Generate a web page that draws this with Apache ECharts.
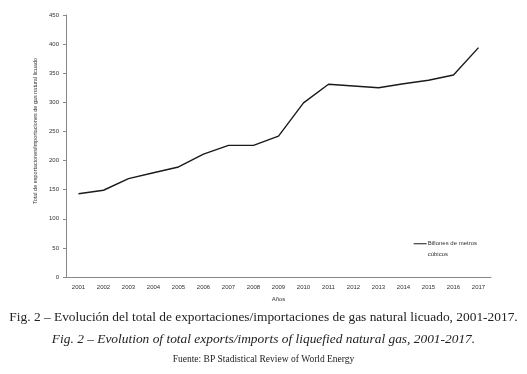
<!DOCTYPE html>
<html>
<head>
<meta charset="utf-8">
<script src="https://cdn.jsdelivr.net/npm/echarts@6/dist/echarts.min.js"></script>
<style>
  html, body { margin: 0; padding: 0; background: #fff; }
  #chart { width: 527px; height: 374px; }
</style>
</head>
<body>
<div id="chart"></div>
<script>
// años y valores (billones de metros cúbicos)
const years = ['2001', '2002', '2003', '2004', '2005', '2006', '2007', '2008', '2009',
  '2010', '2011', '2012', '2013', '2014', '2015', '2016', '2017'];
const lngTrade = [143, 149, 169, 179, 189, 211, 226, 226, 242, 299, 331, 328, 325, 332, 338, 347, 394];

const chart = echarts.init(document.getElementById('chart'));

const option = {
  backgroundColor: '#ffffff',
  animation: false,
  title: [
    {
      text: 'Fig. 2 – Evolución del total de exportaciones/importaciones de gas natural licuado, 2001-2017.',
      left: 'center', top: 306,
      textStyle: { fontFamily: 'Liberation Serif', fontSize: 13.4, fontWeight: 'normal', color: '#222' }
    },
    {
      text: 'Fig. 2 – Evolution of total exports/imports of liquefied natural gas, 2001-2017.',
      left: 'center', top: 328,
      textStyle: { fontFamily: 'Liberation Serif', fontSize: 13.4, fontStyle: 'italic', fontWeight: 'normal', color: '#222' }
    },
    {
      text: 'Fuente: BP Stadistical Review of World Energy',
      left: 'center', top: 349,
      textStyle: { fontFamily: 'Liberation Serif', fontSize: 9.5, fontWeight: 'normal', color: '#222' }
    }
  ],
  legend: {
    right: 50, top: 228,
    padding: 0,
    orient: 'vertical',
    itemWidth: 13, itemHeight: 8,
    itemGap: 0,
    icon: 'path://M0,0 L13,0 L13,1 L0,1 Z',
    textStyle: { fontFamily: 'Liberation Sans', fontSize: 6, color: '#333', lineHeight: 10.5, padding: [0, 0, 0, -4] },
    formatter: () => ' \nBillones de metros\ncúbicos'
  },
  grid: { left: 66, right: 36, top: 15, bottom: 97 },
  xAxis: {
    type: 'category',
    data: years,
    boundaryGap: true,
    name: 'Años',
    nameLocation: 'middle',
    nameGap: 19,
    nameTextStyle: { fontFamily: 'Liberation Sans', fontSize: 6, color: '#333' },
    axisLine: { lineStyle: { color: '#888', width: 1 } },
    axisTick: { alignWithLabel: true, length: 3, lineStyle: { color: '#888' } },
    axisLabel: { fontFamily: 'Liberation Sans', fontSize: 6, color: '#333', margin: 7 }
  },
  yAxis: {
    type: 'value',
    min: 0, max: 450, interval: 50,
    name: 'Total de exportaciones/importaciones de gas natural licuado',
    nameLocation: 'middle',
    nameGap: 19,
    nameTextStyle: { fontFamily: 'Liberation Sans', fontSize: 5.5, color: '#333', padding: [0, 0, 0, 30] },
    axisLine: { show: true, lineStyle: { color: '#888', width: 1 } },
    axisTick: { show: true, length: 3, lineStyle: { color: '#888' } },
    axisLabel: { fontFamily: 'Liberation Sans', fontSize: 6, color: '#333', margin: 7 },
    splitLine: { show: false }
  },
  series: [{
    name: 'Billones de metros cúbicos',
    type: 'line',
    data: lngTrade,
    symbol: 'none',
    lineStyle: { color: '#1a1a1a', width: 1.4 },
    itemStyle: { color: '#1a1a1a' }
  }]
};

chart.setOption(option);
</script>
</body>
</html>
